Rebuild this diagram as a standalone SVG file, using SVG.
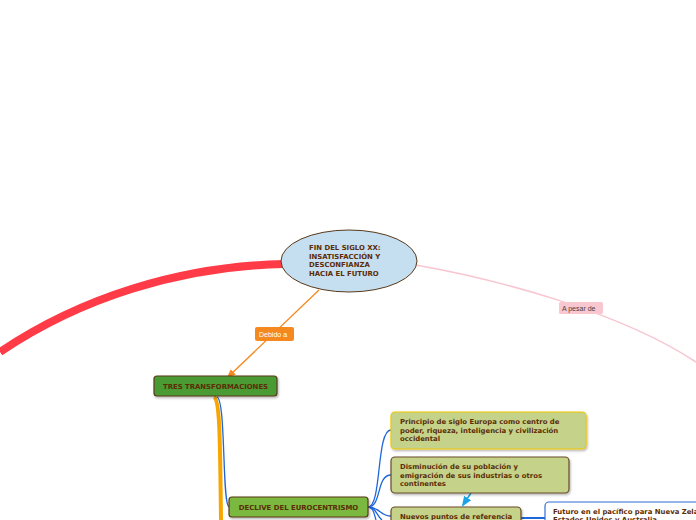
<svg xmlns="http://www.w3.org/2000/svg" width="696" height="520" viewBox="0 0 696 520">
<defs>
<style>
.t{font-family:"DejaVu Sans",Verdana,sans-serif;font-weight:bold;font-size:6.9px;fill:#5c2c06}
.lbl{font-family:"Liberation Sans",Arial,sans-serif;font-size:7px}
.box{stroke-width:1.2}
.blue{fill:none;stroke:#1f66d9;stroke-width:1.3}
</style>
<marker id="ao" viewBox="0 0 10 10" refX="8" refY="5" markerWidth="7" markerHeight="7" orient="auto"><path d="M0,1 L10,5 L0,9 z" fill="#f5891f"/></marker>
<marker id="ab" viewBox="0 0 10 10" refX="8" refY="5" markerWidth="7" markerHeight="7" orient="auto"><path d="M0,1 L10,5 L0,9 z" fill="#1aa3e8"/></marker>
<filter id="sh" x="-10%" y="-20%" width="130%" height="160%"><feDropShadow dx="1" dy="1.5" stdDeviation="1" flood-color="#000" flood-opacity="0.3"/></filter>
</defs>
<rect width="696" height="520" fill="#fff"/>
<g id="connectors">
<path d="M284,264 C180,266 80,298 0,352" fill="none" stroke="#ff3b47" stroke-width="8"/>
<path d="M416,265 C500,280 620,312 696,362" fill="none" stroke="#f8c6d0" stroke-width="1.5"/>
<path d="M319,290 L228,377" fill="none" stroke="#f5891f" stroke-width="1.3" marker-end="url(#ao)"/>
<path d="M214,397 C220,400 220,440 221,520" fill="none" stroke="#f7a600" stroke-width="4"/>
<path d="M217,397 C226,400 222,505 229,507" class="blue"/>
<path d="M368,507 C382,507 376,430 391,430" class="blue"/>
<path d="M368,507 C382,507 376,475 391,475" class="blue"/>
<path d="M368,507 C380,507 380,516 391,516" class="blue"/>
<path d="M368,507 C376,507 376,515 382,520" class="blue"/>
<path d="M368,507 C374,508 374,514 376,520" class="blue"/>
<path d="M471,493 L463,505" fill="none" stroke="#1aa3e8" stroke-width="1.5" marker-end="url(#ab)"/>
<path d="M521,518 L545,518" fill="none" stroke="#1f66d9" stroke-width="2"/>
<g id="lbl-debido"><rect x="255" y="327" width="39" height="14" rx="2" fill="#f5891f"/><text x="259" y="336.5" class="lbl" fill="#fff">Debido a</text></g>
<g id="lbl-apesar"><rect x="559" y="302" width="44" height="12" rx="1.5" fill="#f9c7d0"/><text x="562" y="310.5" class="lbl" fill="#444">A pesar de</text></g>
</g>
<g id="center">
<ellipse cx="349" cy="261" rx="68" ry="31" fill="#c5def0" stroke="#5a3b1a" stroke-width="1"/>
<text class="t"><tspan x="309" y="250">FIN DEL SIGLO XX:</tspan><tspan x="309" y="258.5">INSATISFACCIÓN Y</tspan><tspan x="309" y="267">DESCONFIANZA</tspan><tspan x="309" y="275.5">HACIA EL FUTURO</tspan></text>
</g>
<g id="tres">
<rect x="154" y="376" width="123" height="20" rx="3" fill="#4b9b35" stroke="#5a3b1a" class="box" filter="url(#sh)"/>
<text x="215.5" y="388.5" class="t" text-anchor="middle">TRES TRANSFORMACIONES</text>
</g>
<g id="declive">
<rect x="229" y="497" width="139" height="20" rx="3" fill="#7ab83f" stroke="#5a3b1a" class="box" filter="url(#sh)"/>
<text x="298.5" y="509.5" class="t" text-anchor="middle">DECLIVE DEL EUROCENTRISMO</text>
</g>
<g id="principio">
<rect x="391" y="412" width="195" height="37" rx="4" fill="#c4d28a" stroke="#f0c800" class="box" filter="url(#sh)"/>
<text class="t"><tspan x="400" y="424">Principio de siglo Europa como centro de</tspan><tspan x="400" y="432.5">poder, riqueza, inteligencia y civilización</tspan><tspan x="400" y="441">occidental</tspan></text>
</g>
<g id="disminucion">
<rect x="391" y="457" width="178" height="36" rx="4" fill="#c4d28a" stroke="#6b4a2a" class="box" filter="url(#sh)"/>
<text class="t"><tspan x="400" y="469">Disminución de su población y</tspan><tspan x="400" y="477.5">emigración de sus industrias o otros</tspan><tspan x="400" y="486">continentes</tspan></text>
</g>
<g id="nuevos">
<rect x="391" y="507" width="130" height="22" rx="4" fill="#c4d28a" stroke="#6b4a2a" class="box" filter="url(#sh)"/>
<text x="400" y="518.5" class="t">Nuevos puntos de referencia</text>
</g>
<g id="futuro">
<rect x="545" y="502" width="170" height="30" rx="4" fill="#fff" stroke="#2e6fd8" stroke-width="1.2"/>
<text class="t"><tspan x="553" y="513.5">Futuro en el pacífico para Nueva Zelanda,</tspan><tspan x="553" y="522">Estados Unidos y Australia</tspan></text>
</g>
</svg>
